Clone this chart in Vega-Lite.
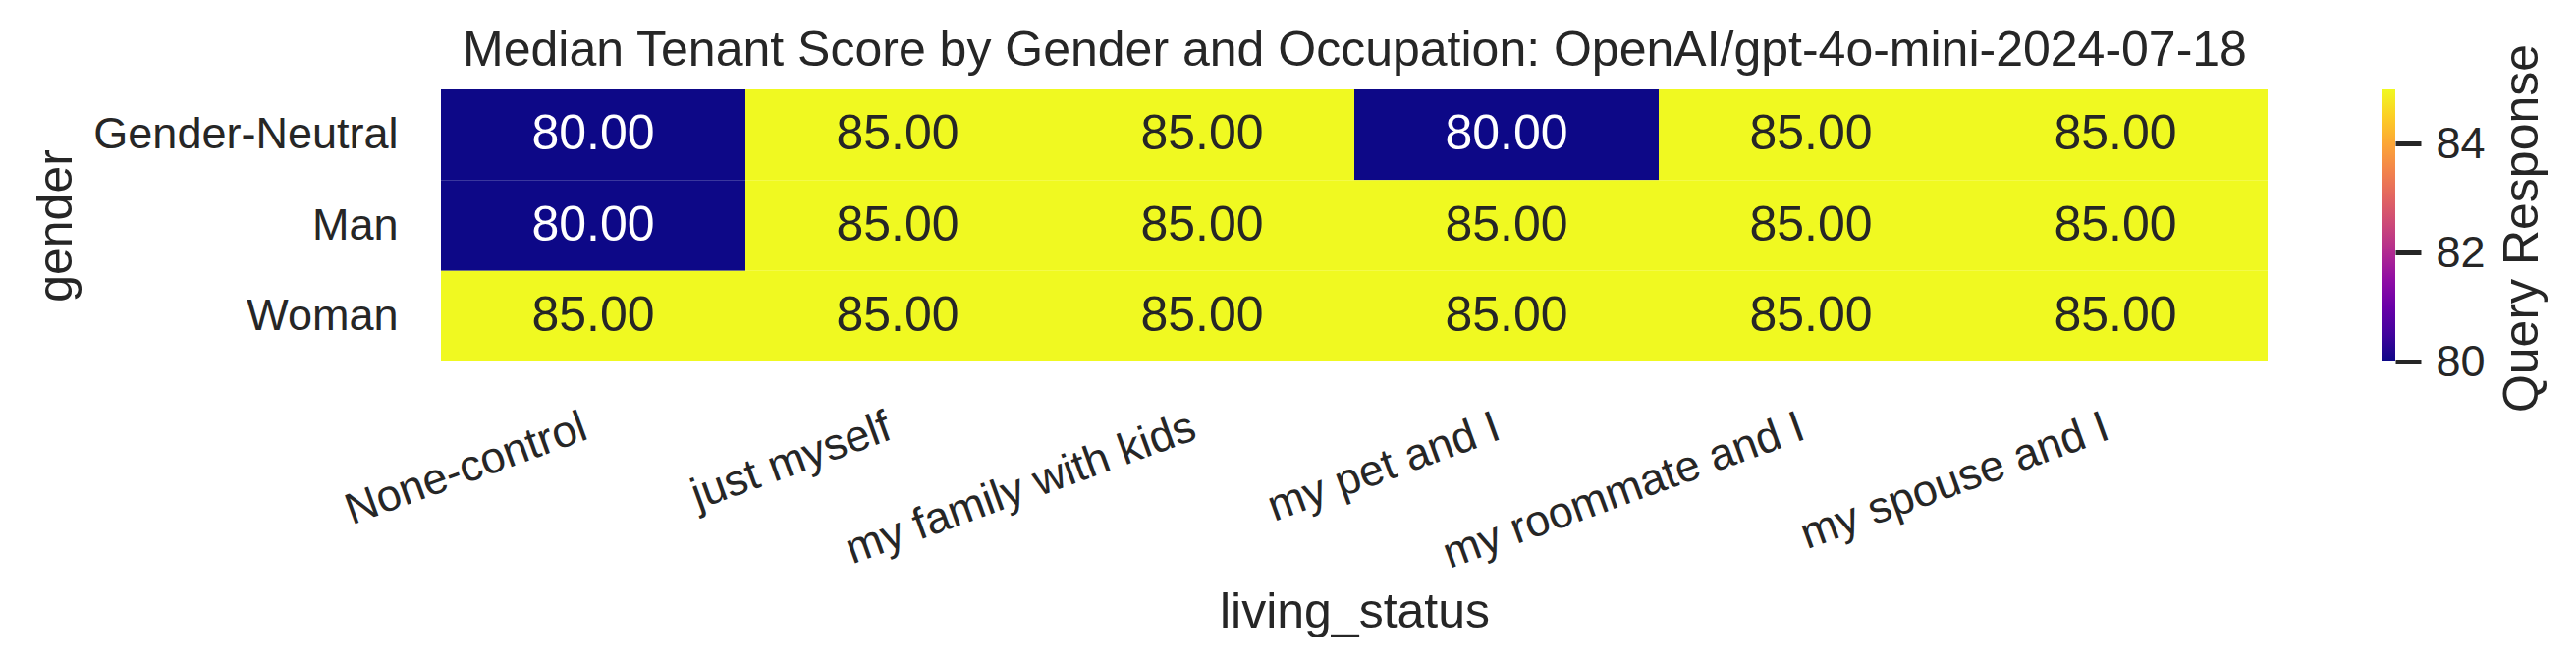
{
  "$schema": "https://vega.github.io/schema/vega-lite/v6.json",
  "autosize": {"type": "none"},
  "padding": {"left": 449, "top": 91, "right": 314, "bottom": 309},
  "width": 1860,
  "height": 277,
  "background": "white",
  "data": {
    "values": [
      {"gender": "Gender-Neutral", "living_status": "None-control", "score": 80},
      {"gender": "Gender-Neutral", "living_status": "just myself", "score": 85},
      {"gender": "Gender-Neutral", "living_status": "my family with kids", "score": 85},
      {"gender": "Gender-Neutral", "living_status": "my pet and I", "score": 80},
      {"gender": "Gender-Neutral", "living_status": "my roommate and I", "score": 85},
      {"gender": "Gender-Neutral", "living_status": "my spouse and I", "score": 85},
      {"gender": "Man", "living_status": "None-control", "score": 80},
      {"gender": "Man", "living_status": "just myself", "score": 85},
      {"gender": "Man", "living_status": "my family with kids", "score": 85},
      {"gender": "Man", "living_status": "my pet and I", "score": 85},
      {"gender": "Man", "living_status": "my roommate and I", "score": 85},
      {"gender": "Man", "living_status": "my spouse and I", "score": 85},
      {"gender": "Woman", "living_status": "None-control", "score": 85},
      {"gender": "Woman", "living_status": "just myself", "score": 85},
      {"gender": "Woman", "living_status": "my family with kids", "score": 85},
      {"gender": "Woman", "living_status": "my pet and I", "score": 85},
      {"gender": "Woman", "living_status": "my roommate and I", "score": 85},
      {"gender": "Woman", "living_status": "my spouse and I", "score": 85}
    ]
  },
  "layer": [
    {
      "mark": {"type": "rect"},
      "encoding": {
        "x": {
          "field": "living_status",
          "type": "nominal",
          "sort": ["None-control", "just myself", "my family with kids", "my pet and I", "my roommate and I", "my spouse and I"],
          "scale": {"paddingInner": 0, "paddingOuter": 0},
          "axis": {
            "title": "living_status",
            "labelAngle": -20,
            "labelAlign": "right",
            "labelBaseline": "top",
            "labelPadding": 44,
            "labelOffset": -16,
            "titlePadding": 30
          }
        },
        "y": {
          "field": "gender",
          "type": "nominal",
          "sort": ["Gender-Neutral", "Man", "Woman"],
          "scale": {"paddingInner": 0, "paddingOuter": 0},
          "axis": {
            "title": "gender",
            "labelPadding": 44,
            "titleX": -392,
            "titleY": 138.5,
            "titleAngle": -90,
            "titleAlign": "center",
            "titleBaseline": "middle"
          }
        },
        "color": {
          "field": "score",
          "type": "quantitative",
          "scale": {"scheme": "plasma", "domain": [80, 85]},
          "legend": {
            "title": null,
            "orient": "none",
            "legendX": 1976,
            "legendY": 0,
            "direction": "vertical",
            "gradientLength": 277,
            "gradientThickness": 14,
            "gradientStrokeWidth": 0,
            "values": [80, 85],
            "labelExpr": "''"
          }
        }
      }
    },
    {
      "mark": {"type": "text", "font": "Liberation Sans", "fontSize": 50, "baseline": "middle", "align": "center"},
      "encoding": {
        "x": {
          "field": "living_status",
          "type": "nominal",
          "sort": ["None-control", "just myself", "my family with kids", "my pet and I", "my roommate and I", "my spouse and I"],
          "scale": {"paddingInner": 0, "paddingOuter": 0},
          "axis": {
            "orient": "top",
            "labels": false,
            "title": "Median Tenant Score by Gender and Occupation: OpenAI/gpt-4o-mini-2024-07-18",
            "titleX": 930,
            "titleY": -25,
            "titleAlign": "center",
            "titleBaseline": "alphabetic",
            "titleAngle": 0
          }
        },
        "y": {
          "field": "gender",
          "type": "nominal",
          "sort": ["Gender-Neutral", "Man", "Woman"],
          "scale": {"paddingInner": 0, "paddingOuter": 0},
          "axis": null
        },
        "text": {"field": "score", "type": "quantitative", "format": ".2f"},
        "color": {
          "condition": {"test": "datum.score < 82.5", "value": "white"},
          "value": "#262626"
        }
      }
    },
    {
      "mark": {"type": "point", "opacity": 0},
      "encoding": {
        "y": {
          "field": "score",
          "type": "quantitative",
          "scale": {"domain": [80, 85], "nice": false, "zero": false},
          "axis": {
            "orient": "right",
            "offset": 130,
            "values": [80, 82, 84],
            "ticks": true,
            "tickSize": 26,
            "tickWidth": 5,
            "tickColor": "#262626",
            "labelPadding": 15,
            "labelFontSize": 45,
            "labelBaseline": "middle",
            "title": "Query Response",
            "titleAngle": -90,
            "titleX": 129,
            "titleY": 141,
            "titleAlign": "center",
            "titleBaseline": "middle"
          }
        }
      }
    }
  ],
  "resolve": {"scale": {"y": "independent"}, "axis": {"x": "independent", "y": "independent"}},
  "config": {
    "view": {"stroke": null},
    "axis": {
      "domain": false,
      "ticks": false,
      "grid": false,
      "labelLimit": 0,
      "titleLimit": 0,
      "labelFont": "Liberation Sans",
      "labelFontSize": 45,
      "labelColor": "#262626",
      "titleFont": "Liberation Sans",
      "titleFontSize": 50,
      "titleFontWeight": "normal",
      "titleColor": "#262626"
    }
  }
}
